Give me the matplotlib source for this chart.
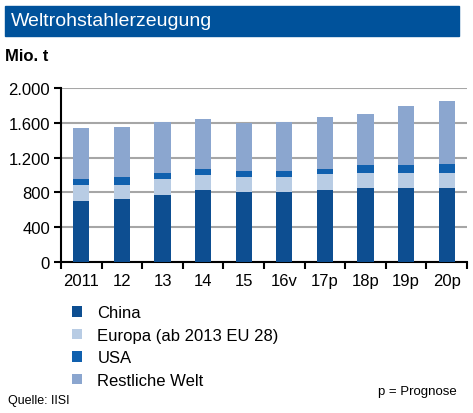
import matplotlib.pyplot as plt
import numpy as np
from matplotlib.patches import Rectangle

plt.rcParams['font.family'] = ['Liberation Sans', 'DejaVu Sans']

years = ['2011', '12', '13', '14', '15', '16v', '17p', '18p', '19p', '20p']
china = [697, 720, 774, 824, 805, 805, 824, 847, 847, 847]
europa = [184, 161, 184, 172, 168, 168, 187, 180, 180, 180]
usa = [69, 92, 69, 77, 69, 69, 62, 84, 84, 103]
rest = [590, 583, 586, 575, 556, 567, 590, 594, 682, 721]

series = [
    ('China', china, '#0D4E91'),
    ('Europa (ab 2013 EU 28)', europa, '#B8CCE4'),
    ('USA', usa, '#1060AE'),
    ('Restliche Welt', rest, '#8BA6CF'),
]

fig = plt.figure(figsize=(4.73, 4.14), dpi=100)

# title banner
fig.patches.append(Rectangle((5 / 473, 1 - 37 / 414), 454 / 473, 30 / 414,
                             transform=fig.transFigure, color='#00529B', zorder=0))
fig.text(11 / 473, 1 - 22 / 414, 'Weltrohstahlerzeugung', color='white',
         fontsize=14, va='center', ha='left')
fig.text(5 / 473, 1 - 57 / 414, 'Mio. t', fontsize=12, fontweight='bold',
         va='center', ha='left')

ax = fig.add_axes([61 / 473, 1 - 263 / 414, 406 / 473, 174 / 414])
x = np.arange(len(years))
bottom = np.zeros(len(years))
handles = []
for name, vals, col in series:
    b = ax.bar(x, vals, width=0.4, bottom=bottom, color=col, label=name, zorder=3)
    bottom += np.array(vals)
    handles.append(b)

ax.set_xlim(-0.5, len(years) - 0.5)
ax.set_ylim(0, 2000)
ax.set_yticks(range(0, 2001, 400))
ax.set_yticklabels(['0', '400', '800', '1.200', '1.600', '2.000'])
ax.yaxis.grid(True, color='#A6A6A6', linewidth=1.5, zorder=0)
ax.set_axisbelow(True)
for s in ['top', 'right']:
    ax.spines[s].set_visible(False)
ax.spines['left'].set_linewidth(1.5)
ax.spines['bottom'].set_linewidth(1.5)

ax.set_xticks(np.arange(-0.5, len(years), 1))
ax.set_xticklabels([])
ax.set_xticks(x, minor=True)
ax.set_xticklabels(years, minor=True)
ax.tick_params(axis='x', which='major', length=5, width=1.5)
ax.tick_params(axis='x', which='minor', length=0, pad=8, labelsize=12)
ax.tick_params(axis='y', length=5, width=1.5, labelsize=12, pad=3)

fig.legend(handles=handles, loc='upper left', bbox_to_anchor=(64 / 473, 1 - 298 / 414),
           frameon=False, fontsize=12, handlelength=0.6, handleheight=0.6,
           handletextpad=0.9, labelspacing=0.45, borderpad=0)

fig.text(378 / 473, 1 - 392 / 414, 'p = Prognose', fontsize=9.5, va='center')
fig.text(8 / 473, 1 - 401 / 414, 'Quelle: IISI', fontsize=9, va='center')

fig.savefig('out.png', dpi=100)
